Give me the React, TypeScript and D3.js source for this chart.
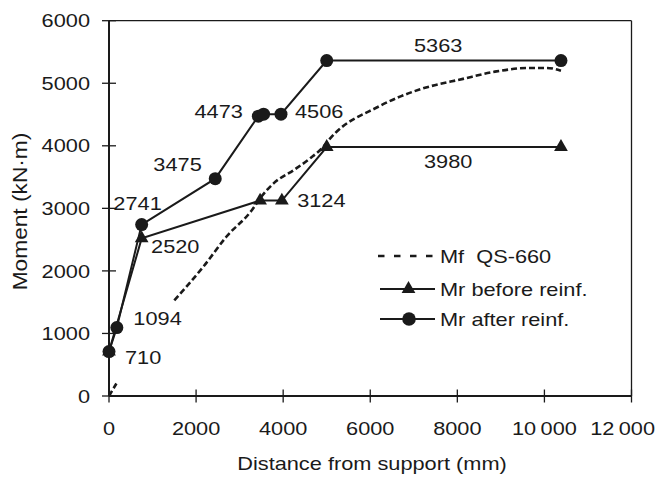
import React from "react";
import * as d3 from "d3";

// distance from support (mm) / moment (kN·m)
const beforeX = [0, 750, 3470, 3970, 5000, 10380];
const beforeY = [710, 2520, 3124, 3124, 3980, 3980];

const afterX = [0, 180, 750, 2440, 3430, 3550, 3950, 5000, 10380];
const afterY = [710, 1094, 2741, 3475, 4473, 4506, 4506, 5363, 5363];

// Mf QS-660 envelope, null = gap in the curve
const mfX = [0, 170, null, 1500, 2170, 2700, 3280, 3470, 3780, 4240, 4620, 4930, 5070, 6200, 7130, 8130, 8900, 9650, 10060, 10380];
const mfY = [0, 200, null, 1530, 2070, 2550, 2970, 3160, 3400, 3610, 3800, 3990, 4110, 4630, 4900, 5070, 5190, 5245, 5245, 5200];

const xTicks = [0, 2000, 4000, 6000, 8000, 10000, 12000];
const xTickLabels = ["0", "2000", "4000", "6000", "8000", "10\u2009000", "12\u2009000"];
const yTicks = [0, 1000, 2000, 3000, 4000, 5000, 6000];

const legendLabels = ["Mf  QS-660", "Mr before reinf.", "Mr after reinf."];

// value labels, hung off a data point
const valueLabels = [
  { text: "5363", x: 5000, y: 5363, dx: 111.5, dy: -9, anchor: "middle" },
  { text: "3980", x: 5000, y: 3980, dx: 121.5, dy: 20.6, anchor: "middle" },
  { text: "4473", x: 3430, y: 4473, dx: -15.5, dy: 2, anchor: "end" },
  { text: "4506", x: 3950, y: 4506, dx: 14, dy: 4, anchor: "start" },
  { text: "3475", x: 2440, y: 3475, dx: -13.5, dy: -8, anchor: "end" },
  { text: "2741", x: 750, y: 2741, dx: -28.3, dy: -15, anchor: "start" },
  { text: "3124", x: 3970, y: 3124, dx: 15.3, dy: 6, anchor: "start" },
  { text: "2520", x: 750, y: 2520, dx: 9.4, dy: 15, anchor: "start" },
  { text: "1094", x: 180, y: 1094, dx: 16.5, dy: -2.6, anchor: "start" },
  { text: "710", x: 0, y: 710, dx: 16, dy: 12.4, anchor: "start" },
];

const W = 659;
const H = 481;
const INK = "#1a1a1a";
const FONT = "'Liberation Sans', Arial, Helvetica, sans-serif";
const FS = 18.6;
const STRETCH = 1.17;

function T(props: { x: number; y: number; anchor?: string; rotate?: boolean; size?: number; children: React.ReactNode }) {
  const { x, y, anchor, rotate, size, children } = props;
  return (
    <text
      transform={`translate(${x},${y})${rotate ? " rotate(-90)" : ""} scale(${STRETCH},1)`}
      textAnchor={anchor || "start"}
      fontFamily={FONT}
      fontSize={size || FS}
      fill={INK}
      style={{ whiteSpace: "pre" }}
    >
      {children}
    </text>
  );
}

export default function App() {
  const x = d3.scaleLinear().domain([0, 12000]).range([109, 631.5]);
  const y = d3.scaleLinear().domain([0, 6000]).range([396, 20.7]);

  const before = beforeX.map((v, i) => [v, beforeY[i]] as [number, number]);
  const after = afterX.map((v, i) => [v, afterY[i]] as [number, number]);
  const mf = mfX.map((v, i) => [v, mfY[i]] as [number | null, number | null]);

  const line = d3
    .line<[number, number]>()
    .x((d) => x(d[0]))
    .y((d) => y(d[1]));

  const mfLine = d3
    .line<[number | null, number | null]>()
    .defined((d) => d[0] != null && d[1] != null)
    .x((d) => x(d[0] as number))
    .y((d) => y(d[1] as number))
    .curve(d3.curveMonotoneX);

  const tri = d3.symbol().type(d3.symbolTriangle).size(82)();

  const x0 = x(0), x1 = x(12000), y0 = y(0), y1 = y(6000);

  // legend
  const lgX0 = 378, lgX1 = 435, lgText = 440;
  const lgRows = [256, 289, 319];

  return (
    <svg width={W} height={H} style={{ position: "absolute", left: 0, top: 0, background: "#fff" }}>
      {/* frame */}
      <line x1={x0} x2={x1} y1={y1} y2={y1} stroke={INK} strokeWidth={1.3} />
      <line x1={x1} x2={x1} y1={y1} y2={y0} stroke={INK} strokeWidth={1.3} />
      <line x1={x0} x2={x1} y1={y0} y2={y0} stroke={INK} strokeWidth={1.8} />
      <line x1={x0} x2={x0} y1={y1} y2={y0} stroke={INK} strokeWidth={2} />

      {/* ticks */}
      {yTicks.map((t) => (
        <g key={"y" + t}>
          <line x1={x0 - 7} x2={x0 + 7} y1={y(t)} y2={y(t)} stroke={INK} strokeWidth={1.3} />
          <T x={90} y={y(t) + 6.6} anchor="end">{String(t)}</T>
        </g>
      ))}
      {xTicks.map((t, i) => (
        <g key={"x" + t}>
          <line x1={x(t)} x2={x(t)} y1={y0 - 6.5} y2={y0 + 6.5} stroke={INK} strokeWidth={1.3} />
          {t === 12000 ? (
            <T x={655} y={435} anchor="end">{xTickLabels[i]}</T>
          ) : (
            <T x={x(t)} y={435} anchor="middle">{xTickLabels[i]}</T>
          )}
        </g>
      ))}

      {/* axis titles */}
      <T x={372} y={469.5} anchor="middle">Distance from support (mm)</T>
      <T x={27} y={211.5} anchor="middle" rotate size={19.4}>Moment (kN·m)</T>

      {/* Mf curve */}
      <path d={mfLine(mf) || ""} fill="none" stroke={INK} strokeWidth={2.6} strokeDasharray="6,3" />

      {/* Mr before */}
      <path d={line(before) || ""} fill="none" stroke={INK} strokeWidth={2} />
      {before.map((d, i) => (
        <path key={"b" + i} d={tri || ""} transform={`translate(${x(d[0])},${y(d[1])})`} fill={INK} />
      ))}

      {/* Mr after */}
      <path d={line(after) || ""} fill="none" stroke={INK} strokeWidth={2} />
      {after.map((d, i) => (
        <circle key={"a" + i} cx={x(d[0])} cy={y(d[1])} r={6.5} fill={INK} />
      ))}

      {/* values */}
      {valueLabels.map((l) => (
        <T key={l.text} x={x(l.x) + l.dx} y={y(l.y) + l.dy} anchor={l.anchor}>{l.text}</T>
      ))}

      {/* legend */}
      <line x1={lgX0} x2={lgX1} y1={lgRows[0]} y2={lgRows[0]} stroke={INK} strokeWidth={2.6} strokeDasharray="6.5,9.5" />
      <line x1={lgX0 + 2} x2={lgX1} y1={lgRows[1]} y2={lgRows[1]} stroke={INK} strokeWidth={2} />
      <path d={tri || ""} transform={`translate(408.5,${lgRows[1]})`} fill={INK} />
      <line x1={lgX0 + 2} x2={lgX1} y1={lgRows[2]} y2={lgRows[2]} stroke={INK} strokeWidth={2} />
      <circle cx={409} cy={lgRows[2]} r={6.8} fill={INK} />
      {legendLabels.map((s, i) => (
        <T key={s} x={lgText} y={lgRows[i] + 6.6}>{s}</T>
      ))}
    </svg>
  );
}
